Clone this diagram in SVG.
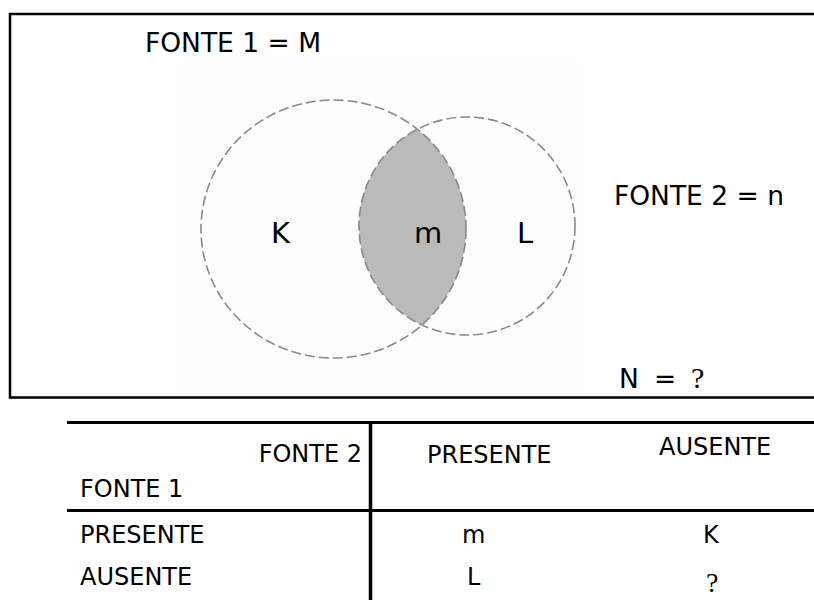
<svg xmlns="http://www.w3.org/2000/svg" width="814" height="600" viewBox="0 0 814 600">
  <style>
    .t { font-family: "DejaVu Sans", Verdana, sans-serif; fill: #000; }
    .big { font-size: 26.5px; }
    .lbl { font-size: 29px; }
    .cell { font-size: 24px; }
    .q { font-family: "Liberation Serif", "Times New Roman", serif; fill: #000; }
    .rule { stroke: #000; fill: none; }
    .set { fill: none; stroke: #888; stroke-width: 1.6; stroke-dasharray: 10 4; }
  </style>
  <defs>
    <clipPath id="rightSet">
      <ellipse cx="467" cy="226" rx="108" ry="109"/>
    </clipPath>
  </defs>

  <rect width="814" height="600" fill="#fff"/>

  <!-- frame around the Venn diagram -->
  <g id="frame">
    <path class="rule" stroke-width="2.5" d="M820 14 H10 V397.5 H820"/>
  </g>

  <!-- Venn diagram -->
  <g id="venn">
    <rect x="183" y="63" width="394" height="333" fill="#fdfdfd"/>
    <g id="intersection">
      <ellipse cx="333.5" cy="229" rx="132.5" ry="129" fill="#bababa" clip-path="url(#rightSet)"/>
    </g>
    <g id="set-fonte1">
      <ellipse class="set" cx="333.5" cy="229" rx="132.5" ry="129"/>
    </g>
    <g id="set-fonte2">
      <ellipse class="set" cx="467" cy="226" rx="108" ry="109"/>
    </g>
    <text class="t lbl" x="271" y="243">K</text>
    <text class="t lbl" x="414" y="243">m</text>
    <text class="t lbl" x="517" y="243">L</text>
  </g>

  <g id="captions">
    <text class="t big" x="145" y="52">FONTE 1 = M</text>
    <text class="t big" x="614" y="205">FONTE 2 = n</text>
    <text class="t big" x="619" y="388" font-size="28">N</text>
    <text class="t big" x="654" y="388">=</text>
    <text class="q" x="691" y="388" font-size="30">?</text>
  </g>

  <!-- contingency table -->
  <g id="table">
    <g id="table-rules">
      <line class="rule" stroke-width="3" x1="67" y1="422.5" x2="814" y2="422.5"/>
      <line class="rule" stroke-width="3" x1="67" y1="510.5" x2="814" y2="510.5"/>
      <line class="rule" stroke-width="3.5" x1="370.5" y1="421" x2="370.5" y2="600"/>
    </g>
    <g id="table-header">
      <text class="t cell" x="362" y="462" text-anchor="end">FONTE 2</text>
      <text class="t cell" x="80" y="497">FONTE 1</text>
      <text class="t cell" x="427" y="463">PRESENTE</text>
      <text class="t cell" x="659" y="455">AUSENTE</text>
    </g>
    <g id="row-presente">
      <text class="t cell" x="80" y="543">PRESENTE</text>
      <text class="t cell" x="462" y="543">m</text>
      <text class="t cell" x="703" y="543">K</text>
    </g>
    <g id="row-ausente">
      <text class="t cell" x="80" y="585">AUSENTE</text>
      <text class="t cell" x="467" y="585">L</text>
      <text class="q" x="706" y="592" font-size="28">?</text>
    </g>
  </g>
</svg>
